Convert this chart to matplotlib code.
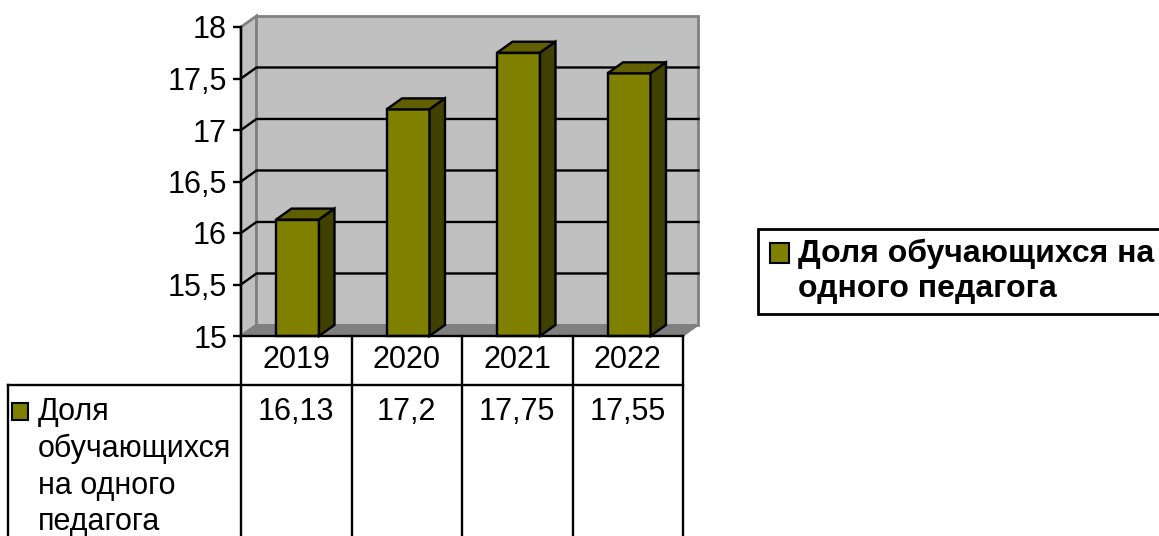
import matplotlib.pyplot as plt
from matplotlib.patches import Polygon, Rectangle

plt.rcParams['font.family'] = ['Liberation Sans', 'DejaVu Sans']

# data
years = ['2019', '2020', '2021', '2022']
values = [16.13, 17.2, 17.75, 17.55]
value_labels = ['16,13', '17,2', '17,75', '17,55']
y_ticks = [15, 15.5, 16, 16.5, 17, 17.5, 18]
row_label = 'Доля\nобучающихся\nна одного\nпедагога'
legend_label = 'Доля обучающихся на\nодного педагога'

W, H = 1159, 536
fig = plt.figure(figsize=(W / 100, H / 100), dpi=100)
# plot area in pixels: x 241..683, y 27..336 from top
ax = fig.add_axes([241 / W, 1 - 336 / H, 442 / W, 309 / H])
ax.set_xlim(0, 4)
ax.set_ylim(15, 18)

# 3d depth offset in data units (~16px right, ~11px up)
dx, dy = 0.14, 0.107

# walls and floor
ax.add_patch(Polygon([(0, 15), (dx, 15 + dy), (dx, 18 + dy), (0, 18)],
                     closed=True, fc='#c0c0c0', ec='#808080', lw=2, clip_on=False, zorder=1))
ax.add_patch(Rectangle((dx, 15 + dy), 4, 3, fc='#c0c0c0', ec='#808080', lw=2,
                       clip_on=False, zorder=1))
ax.add_patch(Polygon([(0, 15), (4, 15), (4 + dx, 15 + dy), (dx, 15 + dy)],
                     closed=True, fc='#808080', ec='#808080', lw=1, clip_on=False, zorder=2))

# gridlines (side wall + back wall)
for t in y_ticks[1:-1]:
    ax.plot([0, dx, 4 + dx], [t, t + dy, t + dy], color='black', lw=1.7,
            clip_on=False, zorder=2)

# bars
bar_off, bar_w = 0.317, 0.389
xs = [i + bar_off for i in range(len(values))]
heights = [v - 15 for v in values]
ax.bar(xs, heights, width=bar_w, bottom=15, align='edge', color='#808000',
       edgecolor='black', linewidth=1.7, zorder=4, clip_on=False)
for x0, v in zip(xs, values):
    ax.add_patch(Polygon([(x0, v), (x0 + bar_w, v), (x0 + bar_w + dx, v + dy), (x0 + dx, v + dy)],
                         closed=True, fc='#606000', ec='black', lw=1.7, zorder=4, clip_on=False))
    ax.add_patch(Polygon([(x0 + bar_w, 15), (x0 + bar_w + dx, 15 + dy),
                          (x0 + bar_w + dx, v + dy), (x0 + bar_w, v)],
                         closed=True, fc='#404000', ec='black', lw=1.7, zorder=4, clip_on=False))

# axis
for s in ['top', 'right', 'bottom']:
    ax.spines[s].set_visible(False)
ax.spines['left'].set_linewidth(1.7)
ax.spines['left'].set_zorder(5)
ax.set_xticks([])
ax.set_yticks(y_ticks)
ax.set_yticklabels([('%g' % t).replace('.', ',') for t in y_ticks])
ax.tick_params(axis='y', direction='out', length=6, width=1.7, labelsize=22, pad=4)
ax.patch.set_visible(False)

# data table under the chart
r1 = 15 - 49 / 103       # bottom of the year row
r_bot = 15 - 202 / 103    # image bottom
x_left = (8 - 241) / 110.5
lk = dict(color='black', lw=1.7, clip_on=False, zorder=5)
ax.plot([0, 4], [15, 15], **lk)
ax.plot([x_left, 4], [r1, r1], **lk)
for i in range(len(years) + 1):
    ax.plot([i, i], [15, r_bot], **lk)
ax.plot([x_left, x_left], [r1, r_bot], **lk)

for i, (yr, lab) in enumerate(zip(years, value_labels)):
    ax.text(i + 0.5, (15 + r1) / 2, yr, ha='center', va='center', fontsize=22, clip_on=False)
    ax.text(i + 0.5, r1 - 0.12, lab, ha='center', va='top', fontsize=22, clip_on=False)

ax.add_patch(Rectangle(((12 - 241) / 110.5, 15 - 420 / 103 + 336 / 103), 16 / 110.5, 17 / 103,
                       fc='#808000', ec='black', lw=1.5, clip_on=False))
ax.text((38 - 241) / 110.5, r1 - 0.12, row_label, ha='left', va='top', fontsize=22,
        linespacing=1.28, clip_on=False)

# legend (drawn by hand so the key sits on the first line)
fig.patches.append(Rectangle((758 / W, 1 - 314 / H), 420 / W, 85 / H, fc='white', ec='black',
                             lw=2, transform=fig.transFigure, figure=fig))
fig.patches.append(Rectangle((770 / W, 1 - 263 / H), 19 / W, 20 / H, fc='#808000', ec='black',
                             lw=1.5, transform=fig.transFigure, figure=fig))
fig.text(798 / W, 1 - 239 / H, legend_label, ha='left', va='top', fontsize=23,
         fontweight='bold', linespacing=1.2)

fig.savefig('out.png', dpi=100)
